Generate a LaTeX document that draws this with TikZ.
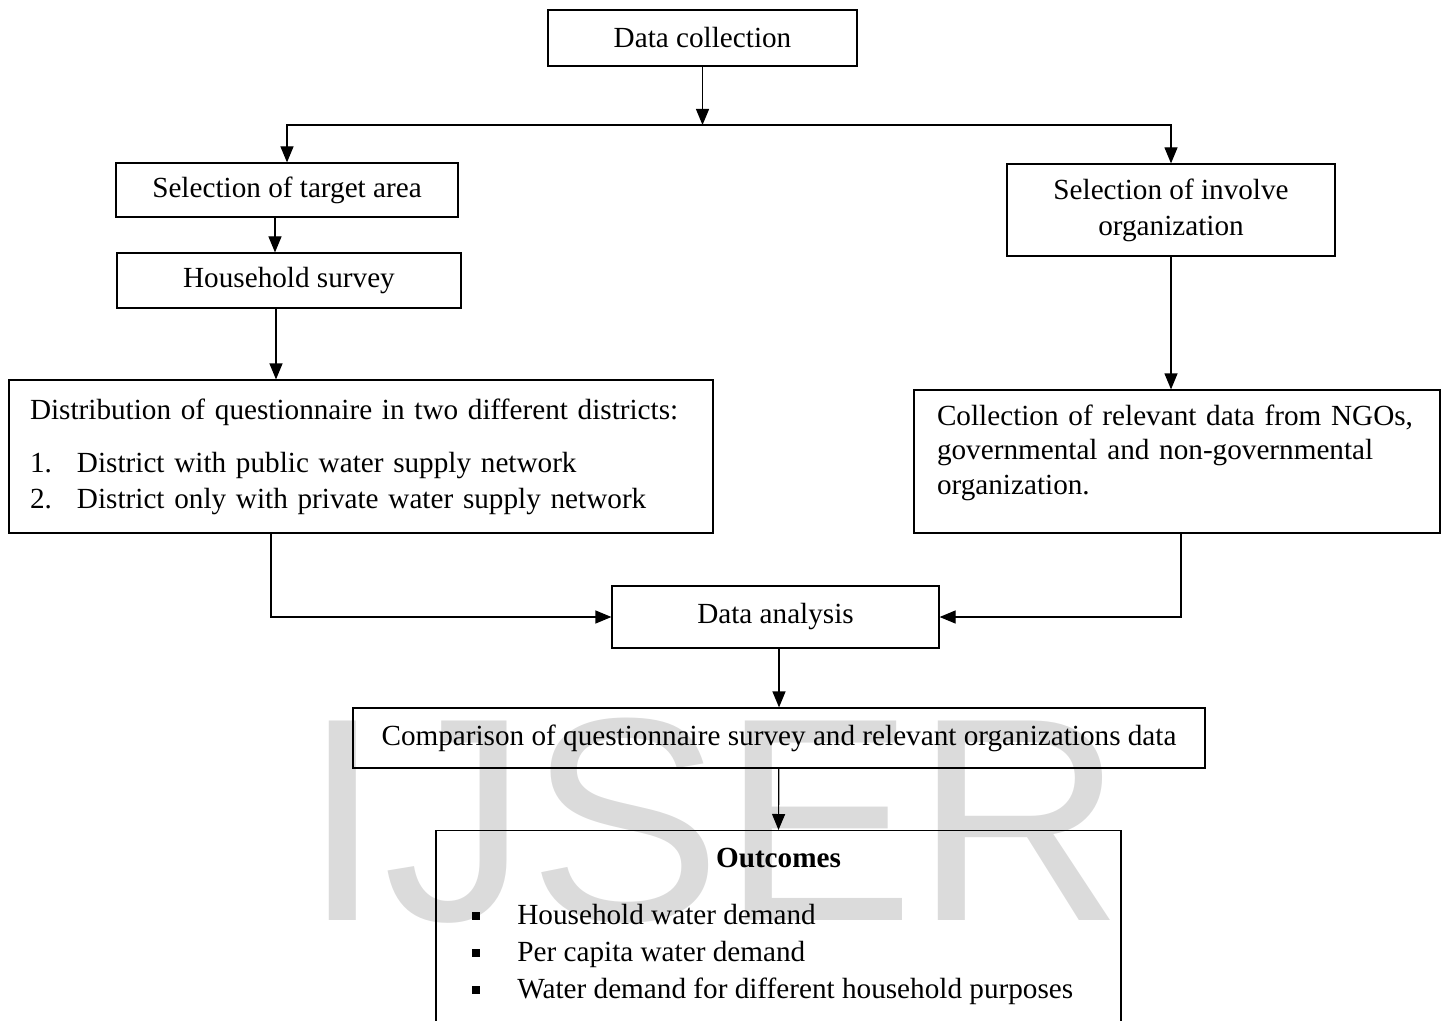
\documentclass[tikz,border=0pt]{standalone}
\usepackage{fontspec}
\setmainfont{Liberation Serif}
\newfontfamily\wmfont{Liberation Sans}
\usetikzlibrary{arrows.meta,positioning}
\begin{document}
\begin{tikzpicture}[x=0.5pt,y=-0.5pt,
  font=\fontsize{14.6}{18}\selectfont,
  box/.style={draw, line width=0.6pt, inner sep=0pt, align=center},
  arr/.style={line width=0.6pt, -{Triangle[length=8pt,width=6.5pt]}},
  dot/.style={fill, inner sep=0pt, minimum size=4pt},
  item/.style={anchor=base west, inner sep=0pt}]
\clip (0,0) rectangle (1449,1021);
\node[anchor=base west, inner sep=0pt, text=black!14, font=\wmfont\fontsize{145}{145}\selectfont] (wm) at (302,920) {IJSER};

\node[box, minimum width=154.5pt, minimum height=28pt] (collect) at (702.5,38) {Data collection};
\node[box, minimum width=171pt, minimum height=27pt] (target) at (287,190) {Selection of target area};
\node[box, minimum width=172pt, minimum height=27.5pt] (house) at (289,280.5) {Household survey};
\node[box, minimum width=164pt, minimum height=46pt] (involve) at (1171,210) {Selection of involve\\organization};
\node[box, align=left, inner xsep=10.5pt, text width=331pt, minimum height=76.5pt] (distrib) at (361,456.5) {Distribution of questionnaire in two different districts:\\[8.5pt]
  \makebox[23.5pt][l]{1.}District with public water supply network\\
  \makebox[23.5pt][l]{2.}District only with private water supply network};
\node[box, align=left, inner xsep=11.5pt, text width=240pt, minimum height=71.5pt, font=\fontsize{14.6}{17.25}\selectfont] (coll) at (1177,461.5) {Collection of relevant data from NGOs,\\
  governmental and non-governmental\\
  organization.\\[-5.25pt]\mbox{}};
\node[box, minimum width=163.5pt, minimum height=31pt] (analysis) at (775.5,617) {Data analysis};
\node[box, minimum width=426pt, minimum height=30pt] (compare) at (779,738) {Comparison of questionnaire survey and relevant organizations data};
\node[box, anchor=north, minimum width=342.5pt, minimum height=150pt] (outcome) at (778.5,830) {};
\node[anchor=base, inner sep=0pt] (head) at (778.5,867) {\textbf{Outcomes}};
\foreach \txt [count=\i] in {Household water demand, Per capita water demand, Water demand for different household purposes} {
  \node[dot] (dot\i) at (476,879+37*\i) {};
  \node[item] (item\i) at (517,887+37*\i) {\txt};
}

% connectors
\coordinate (split) at (702.5,125);
\draw[arr] (collect) -- (split);
\draw[arr] (split) -| (target);
\draw[arr] (split) -| (involve);
\draw[arr] ([xshift=-6pt]target.south) -- ([xshift=-6pt]target.south |- house.north);
\draw[arr] ([xshift=-6.5pt]house.south) -- ([xshift=-6.5pt]house.south |- distrib.north);
\draw[arr] (involve) -- (involve |- coll.north);
\draw[arr] ([xshift=-45pt]distrib.south) |- (analysis.west);
\draw[arr] ([xshift=2pt]coll.south) |- (analysis.east);
\draw[arr] (analysis.south -| compare.north) -- (compare.north);
\draw[arr] (compare) -- (outcome.north);
\end{tikzpicture}
\end{document}
